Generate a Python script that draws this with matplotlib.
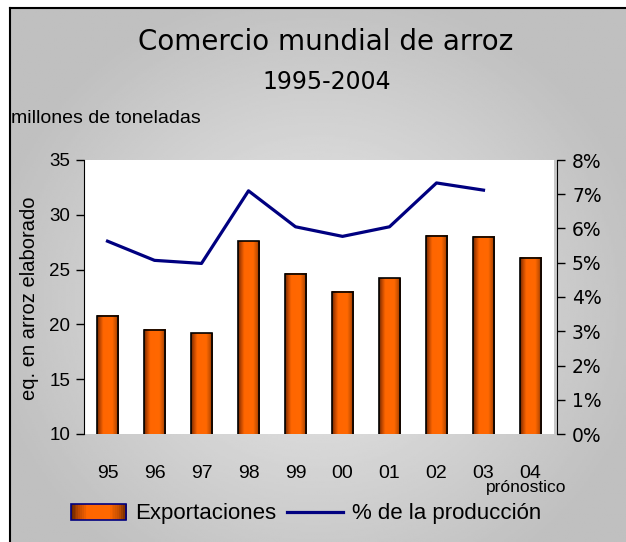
import numpy as np
import matplotlib.pyplot as plt
from matplotlib.colors import LinearSegmentedColormap
from matplotlib.patches import Rectangle
from matplotlib.lines import Line2D
from matplotlib.legend_handler import HandlerBase
from matplotlib.ticker import PercentFormatter, MultipleLocator

# Datos
anios = ['95', '96', '97', '98', '99', '00', '01', '02', '03', '04']
exportaciones = [20.8, 19.5, 19.2, 27.6, 24.6, 23.0, 24.2, 28.1, 28.0, 26.1]
pct_produccion = [5.63, 5.07, 4.98, 7.1, 6.05, 5.77, 6.05, 7.33, 7.12]  # 04 sin dato

naranja = LinearSegmentedColormap.from_list(
    'naranja', [(0, '#6e2800'), (0.12, '#b84400'), (0.28, '#ff6600'),
                (0.7, '#ff6800'), (0.88, '#c44e00'), (1, '#6e2800')])
azul = '#000080'
fuente = 'Liberation Sans'

W, H = 626, 542
fig = plt.figure(figsize=(W / 100, H / 100), dpi=100, facecolor='white')

# Fondo gris con degradado y marco
fondo = fig.add_axes([10 / W, 0, 1 - 10 / W, 1 - 8 / H], zorder=-10)
gx, gy = np.meshgrid(np.linspace(0, 1, 300), np.linspace(0, 1, 300))
r = np.sqrt(((gx - 0.5) / 0.55) ** 2 + ((gy - 0.55) / 0.6) ** 2)
gris = 0.92 - 0.17 * np.clip(r, 0, 1)
fondo.imshow(gris, cmap='gray', vmin=0, vmax=1, aspect='auto', extent=(0, 1, 0, 1))
fondo.set_xticks([])
fondo.set_yticks([])
for s in ['right', 'bottom']:
    fondo.spines[s].set_visible(False)
for s in ['left', 'top']:
    fondo.spines[s].set_linewidth(1.5)

# Area del grafico
ax = fig.add_axes([84 / W, 1 - 434 / H, (554 - 84) / W, (434 - 160) / H])
ax.set_facecolor('white')
x = np.arange(len(anios))
ancho = 0.45
grad = np.linspace(0, 1, 64).reshape(1, -1)
for xi, v in zip(x, exportaciones):
    ax.imshow(grad, cmap=naranja, aspect='auto', zorder=2,
              extent=(xi - ancho / 2, xi + ancho / 2, 10, v))
ax.bar(x, exportaciones, width=ancho, facecolor='none', edgecolor='black',
       linewidth=1.2, zorder=3)
ax.set_xlim(-0.5, len(anios) - 0.5)
ax.set_ylim(10, 35)
ax.yaxis.set_major_locator(MultipleLocator(5))
ax.set_xticks(x)
ax.set_xticklabels(anios, fontsize=14, family=fuente)
ax.tick_params(axis='x', length=0, pad=22)
ax.tick_params(axis='y', direction='out', length=6, width=1, pad=4, labelsize=13.5)
for lab in ax.get_yticklabels():
    lab.set_family(fuente)
for s in ['top', 'bottom', 'right']:
    ax.spines[s].set_visible(False)

ax2 = ax.twinx()
ax2.plot(x[:len(pct_produccion)], np.array(pct_produccion) / 100, color=azul,
         linewidth=2.3, zorder=4)
ax2.set_ylim(0, 0.08)
ax2.yaxis.set_major_locator(MultipleLocator(0.01))
ax2.yaxis.set_major_formatter(PercentFormatter(1, decimals=0))
ax2.tick_params(axis='y', direction='out', length=6, width=1, pad=5, labelsize=13.5)
for lab in ax2.get_yticklabels():
    lab.set_family(fuente)
for s in ['top', 'bottom', 'left']:
    ax2.spines[s].set_visible(False)
ax2.spines['right'].set_position(('outward', 2))

# Textos
fig.text(326 / W, 1 - 50 / H, 'Comercio mundial de arroz', ha='center', va='baseline',
         fontsize=20, family='DejaVu Sans')
fig.text(327 / W, 1 - 89 / H, '1995-2004', ha='center', va='baseline',
         fontsize=17, family='DejaVu Sans')
fig.text(11 / W, 1 - 123 / H, 'millones de toneladas', ha='left', va='baseline',
         fontsize=14, family=fuente)
fig.text(30 / W, 1 - 298 / H, 'eq. en arroz elaborado', ha='center', va='center',
         rotation=90, fontsize=14.5, family=fuente)
fig.text(526 / W, 1 - 492 / H, 'prónostico', ha='center', va='baseline',
         fontsize=12.5, family=fuente)


# Leyenda con degradado
class ManejadorDegradado(HandlerBase):
    def create_artists(self, legend, orig_handle, xdescent, ydescent, width, height,
                       fontsize, trans):
        n = 30
        arts = []
        for i in range(n):
            arts.append(Rectangle((-xdescent + i * width / n, -ydescent), width / n + 0.3,
                                  height, facecolor=naranja(i / (n - 1)),
                                  edgecolor='none', transform=trans))
        arts.append(Rectangle((-xdescent, -ydescent), width, height, facecolor='none',
                              edgecolor=azul, linewidth=1.2, transform=trans))
        return arts


h_barra = Rectangle((0, 0), 1, 1)
h_linea = Line2D([], [], color=azul, linewidth=2.3)
fig.legend([h_barra, h_linea], ['Exportaciones', '% de la producción'],
           handler_map={h_barra: ManejadorDegradado()},
           loc='center', bbox_to_anchor=(306 / W, 1 - 514 / H), ncol=2, frameon=False,
           prop={'family': fuente, 'size': 16}, handlelength=2.5, handleheight=0.7,
           handletextpad=0.4, columnspacing=0.5, borderpad=0)

fig.savefig('out.png', dpi=100)
